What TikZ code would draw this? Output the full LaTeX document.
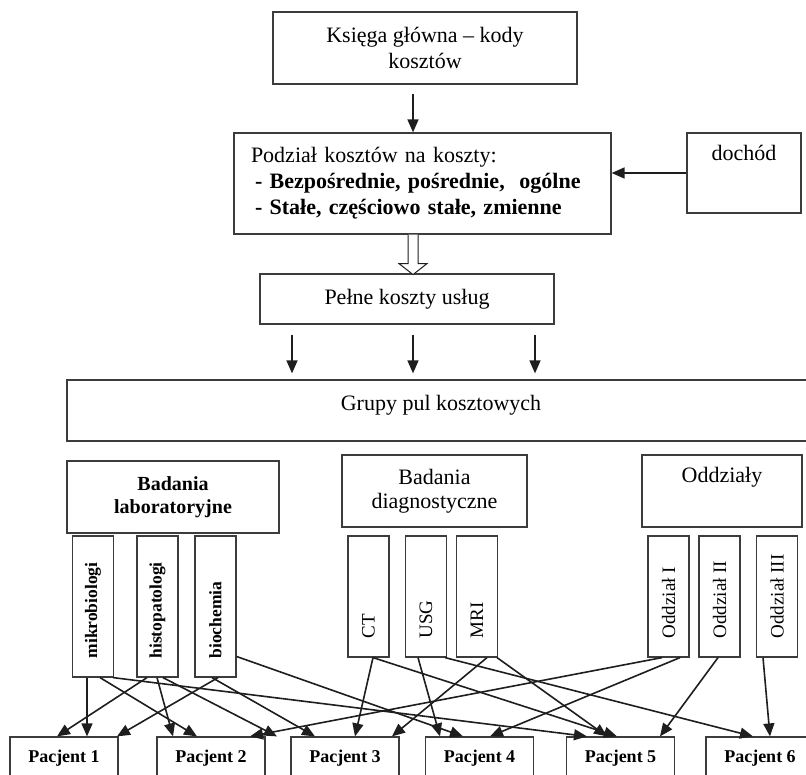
\documentclass[tikz,border=0pt]{standalone}
\usepackage{fontspec}
\setmainfont{Liberation Serif}
\usetikzlibrary{arrows.meta}
\definecolor{BoxGrey}{HTML}{3C3C3C}
\definecolor{LineDark}{HTML}{1E1E1E}

\begin{document}
\begin{tikzpicture}[x=1pt,y=-1pt,
  box/.style={draw=BoxGrey, line width=1.2pt, inner sep=0pt},
  conn/.style={draw=LineDark, line width=1.6pt, -{Triangle[length=13pt,width=11pt]}},
  txt/.style={font=\fontsize{22}{26}\selectfont},
  labbox/.style={box, minimum width=41pt, minimum height=141pt},
  diagbox/.style={box, minimum width=41pt, minimum height=121pt},
  vlab/.style={rotate=90, anchor=west, inner sep=0pt, font=\bfseries\fontsize{17.5}{20}\selectfont},
  vdiag/.style={rotate=90, anchor=west, inner sep=0pt, font=\fontsize{19}{22}\selectfont},
  pacbox/.style={box, minimum width=108pt, minimum height=42pt, font=\bfseries\fontsize{18}{20}\selectfont}]
  \useasboundingbox (0,0) rectangle (806,775);
  \clip (0,0) rectangle (806,775);
  % top part
  \node[box,txt,minimum width=304pt,minimum height=72pt,align=center] (ksiega) at (425,48) {Księga główna – kody\\kosztów};
  \node[box,txt,text width=343pt,inner xsep=17pt,minimum height=101pt,align=left] (podzial) at (422.5,183.5)
    {Podział kosztów na koszty:\\\hspace*{4pt}\textbf{- Bezpośrednie, pośrednie,\ \ ogólne}\\\hspace*{4pt}\textbf{- Stałe, częściowo stałe, zmienne}};
  \node[box,minimum width=114pt,minimum height=80pt,label={[txt,anchor=north,inner sep=0pt,yshift=-13pt]north:dochód}] (dochod) at (744,173) {};
  \node[box,txt,minimum width=294pt,minimum height=50pt] (pelne) at (407,299) {Pełne koszty usług};
  \node[box,txt,minimum width=748pt,minimum height=61pt,text depth=16pt] (grupy) at (441,410.5) {Grupy pul kosztowych};
  \draw[conn,shorten <=9pt] (413,0 |- ksiega.south) -- (413,0 |- podzial.north);
  \draw[conn] (dochod.west) -- (dochod.west -| podzial.east);
  \coordinate (hol) at (413,0 |- podzial.south);
  \draw[draw=LineDark,line width=1pt,fill=white] (hol) ++(-5,0) -- ++(0,29) -- ++(-9,0) -- ++(14,11) -- ++(14,-11) -- ++(-9,0) -- ++(0,-29);
  \foreach \x in {292,413,535}{\draw[conn,shorten <=10pt,shorten >=6pt] (\x,0 |- pelne.south) -- (\x,0 |- grupy.north);}
  % cost pools
  \node[box,align=center,minimum width=212pt,minimum height=72pt,font=\bfseries\fontsize{20}{23}\selectfont] (lab) at (173,497) {Badania\\laboratoryjne};
  \node[box,align=center,minimum width=185pt,minimum height=72pt,font=\fontsize{22}{24}\selectfont] (diag) at (434.5,491) {Badania\\diagnostyczne};
  \node[box,minimum width=160pt,minimum height=72pt,label={[txt,anchor=north,inner sep=0pt,yshift=-13pt]north:Oddziały}] (oddz) at (722,491) {};
  \foreach \n/\x/\t in {mikro/93/mikrobiologi,histo/157.5/histopatologi,bio/215.5/biochemia}
    {\node[labbox] (\n) at (\x,606.5) {}; \node[vlab] (t\n) at ([yshift=19pt]\n.south) {\t};}
  \foreach \n/\x/\t in {ct/368.5/CT,usg/426/USG,mri/477/MRI,oddI/668.5/Oddział I,oddII/719.5/Oddział II,oddIII/777/Oddział III}
    {\node[diagbox] (\n) at (\x,596.5) {}; \node[vdiag] (t\n) at ([yshift=19pt]\n.south) {\t};}
  % patients
  \foreach \i/\x in {1/64,2/211,3/345,4/479.5,5/620.5,6/760}{\node[pacbox] (p\i) at (\x,758) {Pacjent \i};}
  \foreach \s/\sx/\t/\tx in {mikro/-6/p1/23,mikro/7/p2/-14,mikro/20/p5/-33.5,histo/-10.5/p1/-7,histo/-0.5/p2/-38,histo/5.5/p3/-68,
      bio/2.5/p1/53,bio/-3.5/p3/-30,ct/4.5/p3/10,ct/4.5/p5/-3.5,usg/-8/p4/-39.5,usg/19/p6/-7,mri/10/p3/47,mri/20/p5/-13.5,
      oddI/-6.5/p2/39,oddI/11.5/p4/10.5,oddII/-1.5/p5/39.5,oddIII/-14/p6/10}
    {\draw[conn] ([xshift=\sx pt]\s.south) -- ([xshift=\tx pt]\t.north);}
  \draw[conn] ([yshift=-50pt]bio.east) -- ([xshift=-16.5pt]p4.north);
\end{tikzpicture}
\end{document}
